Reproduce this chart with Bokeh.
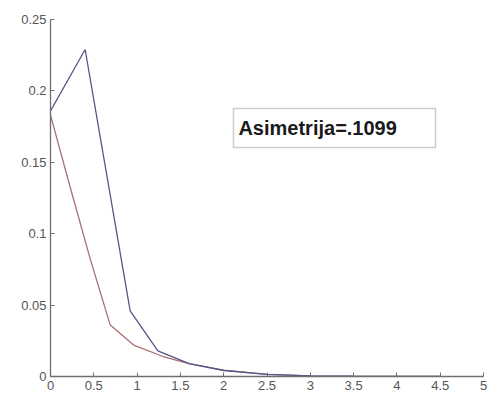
from bokeh.plotting import figure
from bokeh.models import Range1d, FixedTicker, Label, BoxAnnotation
from bokeh.embed import file_html
from bokeh.resources import INLINE

# data
blue_x = [0.0, 0.40, 0.92, 1.24, 1.6, 2.0, 2.5, 3.0, 3.5, 4.0, 4.5]
blue_y = [0.186, 0.229, 0.046, 0.018, 0.009, 0.0042, 0.0015, 0.0005, 0.0002, 0.0001, 0.0]
red_x = [0.0, 0.23, 0.46, 0.69, 0.96, 1.3, 1.6, 2.0, 2.5, 3.0, 3.5, 4.0, 4.5]
red_y = [0.183, 0.132, 0.082, 0.036, 0.022, 0.014, 0.009, 0.0045, 0.0015, 0.0005, 0.0002, 0.0001, 0.0]

x_ticks = [0, 0.5, 1, 1.5, 2, 2.5, 3, 3.5, 4, 4.5, 5]
x_tick_labels = ["0", "0.5", "1", "1.5", "2", "2.5", "3", "3.5", "4", "4.5", "5"]
y_ticks = [0, 0.05, 0.1, 0.15, 0.2, 0.25]
y_tick_labels = ["0", "0.05", "0.1", "0.15", "0.2", "0.25"]

annotation_text = "Asimetrija=.1099"

p = figure(width=492, height=396, output_backend="svg", toolbar_location=None,
           x_range=Range1d(0, 5), y_range=Range1d(0, 0.25),
           min_border_left=50, min_border_right=9, min_border_top=19, min_border_bottom=20)
p.outline_line_color = None
p.grid.visible = False
p.background_fill_color = "white"
p.border_fill_color = "white"

for ax, ticks, labels in ((p.xaxis[0], x_ticks, x_tick_labels), (p.yaxis[0], y_ticks, y_tick_labels)):
    ax.ticker = FixedTicker(ticks=ticks)
    ax.major_label_overrides = {t: l for t, l in zip(ticks, labels)}
    ax.minor_tick_line_color = None
    ax.major_tick_in = 4
    ax.major_tick_out = 0
    ax.axis_line_color = "#6e6e6e"
    ax.major_tick_line_color = "#6e6e6e"
    ax.axis_line_width = 1.3
    ax.major_label_text_color = "#555555"
    ax.major_label_text_font = "Liberation Sans"
    ax.major_label_text_font_size = "13px"
p.xaxis.major_label_standoff = 4
p.yaxis.major_label_standoff = 4

p.line(red_x, red_y, line_color="#a87070", line_width=1.3)
p.line(blue_x, blue_y, line_color="#55558a", line_width=1.3)

box = BoxAnnotation(left=2.113, right=4.446, bottom=0.1604, top=0.1877,
                    fill_color="white", fill_alpha=1.0,
                    line_color="#5a5a5a", line_width=1.5)
p.add_layout(box)
p.add_layout(Label(x=2.17, y=0.1740, text=annotation_text, text_font="Liberation Sans",
                   text_font_style="bold", text_font_size="20px", text_color="#1a1a1a",
                   text_baseline="middle"))

open("out.html", "w").write(file_html(p, INLINE))
